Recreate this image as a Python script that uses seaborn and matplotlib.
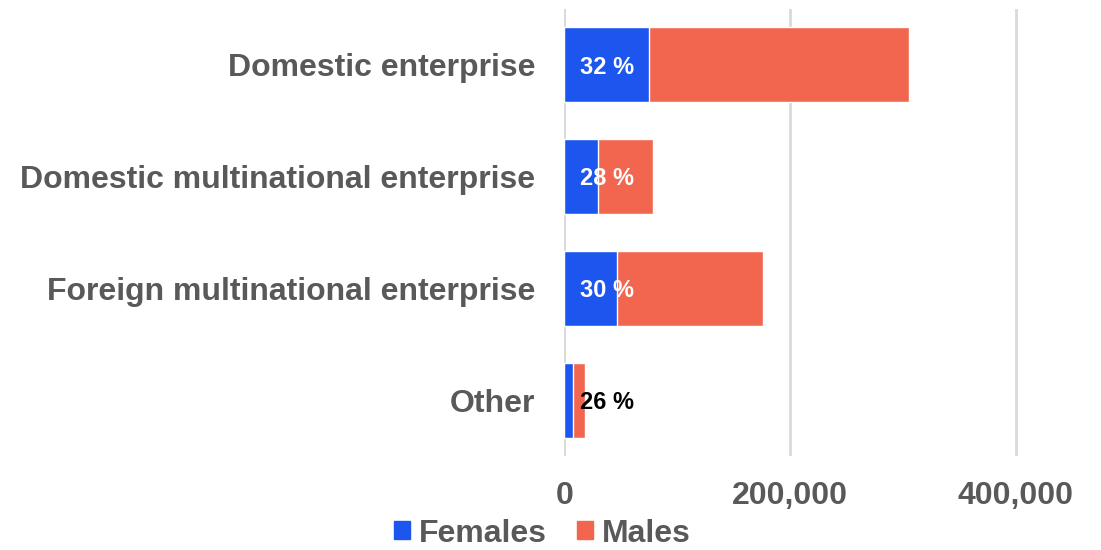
import pandas as pd
import matplotlib.pyplot as plt
import seaborn as sns
from matplotlib.patches import Patch

categories = ['Domestic enterprise', 'Domestic multinational enterprise',
              'Foreign multinational enterprise', 'Other']
females = [75000, 30000, 46700, 8000]
males = [230400, 48900, 129400, 10600]
share_labels = ['32 %', '28 %', '30 %', '26 %']
label_colors = ['white', 'white', 'white', 'black']
xticks = [0, 200000, 400000]

df = pd.DataFrame({'category': categories, 'Females': females, 'Males': males})
df['Total'] = df['Females'] + df['Males']

sns.set_style('white')
plt.rcParams['font.family'] = ['Liberation Sans', 'DejaVu Sans']

blue = '#1c56ee'
red = '#f2654e'
grey = '#595959'

fig = plt.figure(figsize=(11.01, 5.5), dpi=100)
ax = fig.add_axes([0.5126, 0.171, 0.461, 0.813])

# stacked bars: total in red, females on top in blue
sns.barplot(data=df, x='Total', y='category', color=red, width=0.67,
            orient='h', ax=ax, saturation=1, zorder=3)
sns.barplot(data=df, x='Females', y='category', color=blue, width=0.67,
            orient='h', ax=ax, saturation=1, zorder=4)

for i, (lab, c) in enumerate(zip(share_labels, label_colors)):
    ax.text(14000, i, lab, color=c, fontsize=17, fontweight='bold',
            va='center_baseline', ha='left', zorder=5)

ax.set_xlim(0, 450000)
ax.set_ylim(3.5, -0.5)
ax.set_xticks(xticks)
ax.set_xticklabels(['{:,}'.format(v) for v in xticks])
ax.xaxis.grid(True, color='#d9d9d9', linewidth=2, zorder=0)
ax.axvline(0, color='#d9d9d9', linewidth=2, zorder=1)
ax.set_xlabel('')
ax.set_ylabel('')
for s in ax.spines.values():
    s.set_visible(False)
ax.tick_params(axis='both', length=0, labelsize=23, labelcolor=grey)
ax.tick_params(axis='y', pad=21)
ax.tick_params(axis='x', pad=18)
for t in ax.get_xticklabels() + ax.get_yticklabels():
    t.set_fontweight('bold')

handles = [Patch(color=blue, label='Females'), Patch(color=red, label='Males')]
fig.legend(handles=handles, loc='center', bbox_to_anchor=(0.493, 0.03), ncol=2,
           frameon=False, handlelength=0.5, handleheight=0.5, handletextpad=0.28,
           columnspacing=0.94, prop={'size': 23, 'weight': 'bold'},
           labelcolor=grey, borderpad=0)

fig.savefig('out.png', dpi=100)
